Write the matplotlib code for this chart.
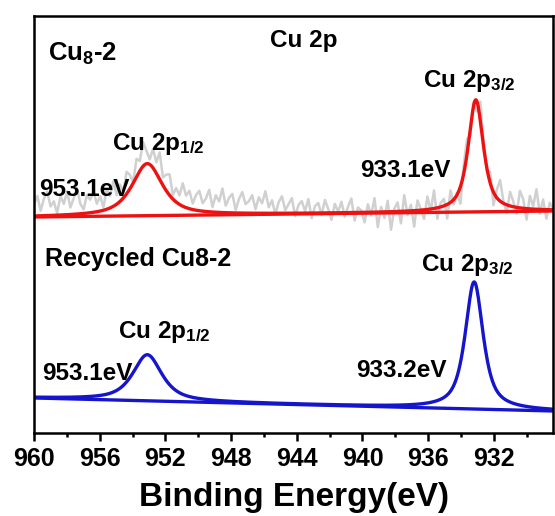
import numpy as np
import matplotlib.pyplot as plt
from matplotlib.ticker import MultipleLocator

plt.rcParams['font.family'] = ['Liberation Sans', 'DejaVu Sans']
plt.rcParams['font.weight'] = 'bold'
plt.rcParams['mathtext.fontset'] = 'custom'
plt.rcParams['mathtext.rm'] = 'Liberation Sans:bold'
plt.rcParams['mathtext.bf'] = 'Liberation Sans:bold'
plt.rcParams['mathtext.it'] = 'Liberation Sans:bold'
plt.rcParams['mathtext.default'] = 'bf'

# Cu 2p fit parameters (binding energy in eV, intensity in a.u., stacked)
fresh_centers = [953.1, 933.1]
fresh_heights = [52, 112]
fresh_fwhm = [2.2, 1.1]
fresh_bg = [216, 222]          # background at 960 eV and at 928.4 eV

recycled_centers = [953.1, 933.2]
recycled_heights = [46, 127]
recycled_fwhm = [2.1, 1.3]
recycled_bg = [35, 22]

# raw counts of the fresh sample, minus the fitted envelope (0.2 eV steps)
raw_noise = [12, 20, 5, 17, 24, 9, 14, 2, 19, 11, 23, 7, 16, 26, 10, 4, 18, 13, 21, 8,
             15, 3, 20, 12, 25, 9, 17, 6, 22, 14, 1, 18, 10, 24, 13, 5, 19, 11, 27, 8,
             16, 21, 4, 14, 9, 23, 12, 18, 6, 15,
             20, 8, 13, 22, 5, 17, 11, 24, 7, 15, 19, 3, 14, 21, 9, 12, 18, 4, 16, 10,
             22, 6, 13, -1, 11, 17, 3, 9, 15, -3, 8, 12, 2, 14, -5, 7, 10, -2, 13, 4,
             -7, 9, 1, 11, -4, 6, 14, -8, 5, 2,
             -10, 8, -3, 14, -15, 5, -6, 11, -18, 3, 9, -12, 16, -4, 6, -16, 10, 1, -9, 13,
             -2, 18, -11, 4, 7, -14, 12, -5, 2, -17, 9, 15, -7, 3, -10, 19, 6, -3, 11, -13,
             8, 21, 2, -8, 14, 5, -6, 17, 9, -11, 13, 3, 20, -4, 10, -9, 7, 1]

xmin, xmax = 960, 928.4


def pseudo_voigt(x, c, h, w, eta=0.75):
    g = np.exp(-4 * np.log(2) * ((x - c) / w) ** 2)
    l = 1 / (1 + 4 * ((x - c) / w) ** 2)
    return h * (eta * l + (1 - eta) * g)


def spectrum(x, centers, heights, fwhm, bg):
    base = np.interp(x, [xmax, xmin], [bg[1], bg[0]])
    env = base.copy()
    for c, h, w in zip(centers, heights, fwhm):
        env += pseudo_voigt(x, c, h, w)
    return base, env


x = np.linspace(xmin, xmax, 800)
x_raw = np.linspace(xmin, xmax, len(raw_noise))

fig = plt.figure(figsize=(5.55, 5.16), dpi=100)
ax = fig.add_axes([0.0613, 0.1609, 0.9351, 0.8081])

# fresh Cu8-2
_, env_raw = spectrum(x_raw, fresh_centers, fresh_heights, fresh_fwhm, fresh_bg)
ax.plot(x_raw, env_raw + np.array(raw_noise), color='#d0d0d0', lw=1.8)
base, env = spectrum(x, fresh_centers, fresh_heights, fresh_fwhm, fresh_bg)
ax.plot(x, base, color='#ee1111', lw=2.4)
ax.plot(x, env, color='#ee1111', lw=2.4)

# recycled Cu8-2
base, env = spectrum(x, recycled_centers, recycled_heights, recycled_fwhm, recycled_bg)
ax.plot(x, base, color='#1515cc', lw=2.4)
ax.plot(x, env, color='#1515cc', lw=2.4)

ax.set_xlim(xmin, xmax)
ax.set_ylim(0, 417)
ax.set_yticks([])
ax.xaxis.set_major_locator(MultipleLocator(4))
ax.xaxis.set_minor_locator(MultipleLocator(2))
ax.tick_params(axis='x', which='major', length=6, width=1.8, labelsize=18, pad=4)
ax.tick_params(axis='x', which='minor', length=3, width=1.8)
for s in ax.spines.values():
    s.set_linewidth(1.8)
ax.set_xlabel('Binding Energy(eV)', fontsize=24, fontweight='bold', labelpad=8)

fs = 17.5
ax.text(0.027, 0.892, 'Cu$_8$-2', transform=ax.transAxes, fontsize=18.5)
ax.text(0.455, 0.926, 'Cu 2p', transform=ax.transAxes, fontsize=fs)
ax.text(0.021, 0.40, 'Recycled Cu8-2', transform=ax.transAxes, fontsize=18)

# peak labels
ax.text(fresh_centers[0] - 0.67, 283, 'Cu 2p$_{1/2}$', ha='center', fontsize=fs)
ax.text(959.7, 237, f'{fresh_centers[0]}eV', fontsize=fs)
ax.text(fresh_centers[1] + 0.4, 346, 'Cu 2p$_{3/2}$', ha='center', fontsize=fs)
ax.text(fresh_centers[1] + 1.55, 256, f'{fresh_centers[1]}eV', ha='right', fontsize=fs)

ax.text(recycled_centers[0] - 1.0, 95, 'Cu 2p$_{1/2}$', ha='center', fontsize=fs)
ax.text(959.5, 53, f'{recycled_centers[0]}eV', fontsize=fs)
ax.text(recycled_centers[1] + 0.45, 162, 'Cu 2p$_{3/2}$', ha='center', fontsize=fs)
ax.text(recycled_centers[1] + 1.7, 56, f'{recycled_centers[1]}eV', ha='right', fontsize=fs)

fig.savefig('out.png', dpi=100)
